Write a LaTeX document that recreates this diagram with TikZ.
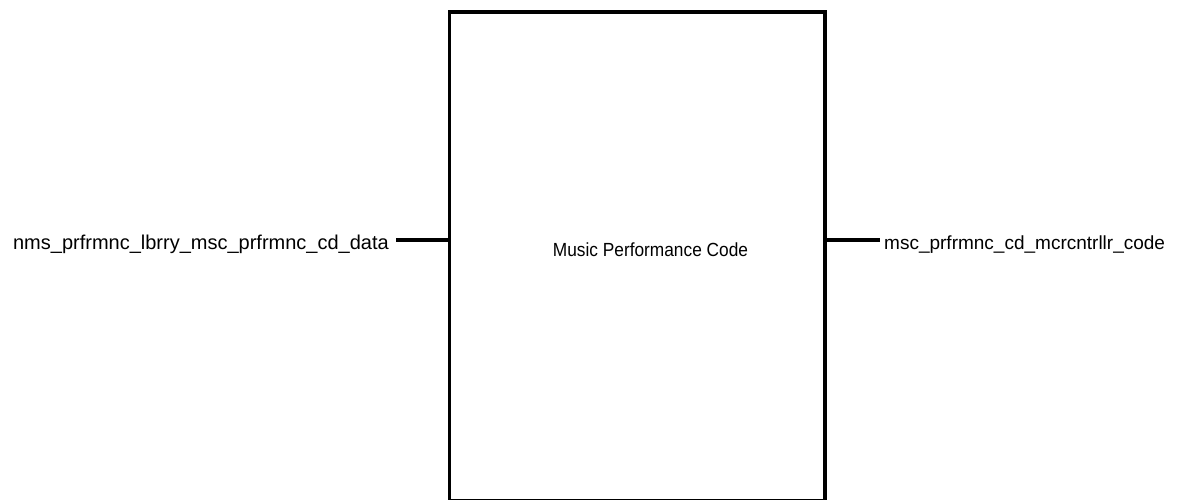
\documentclass[tikz,border=0pt]{standalone}
\usepackage{fontspec}
\setmainfont{Liberation Sans}
\newfontfamily\titlefont[FakeStretch=0.91]{Liberation Sans}
\usetikzlibrary{positioning}
\begin{document}
\begin{tikzpicture}[x=1pt,y=-1pt,font=\fontsize{19.5}{23}\selectfont,
    block/.style={draw, line width=3.5pt, inner sep=0pt, outer sep=0pt},
    wire/.style={line width=3.5pt},
    pin/.style={inner sep=0pt}]
        \useasboundingbox (0,0) rectangle (1184,500);
        \clip (0,0) rectangle (1184,500);
        % the block
        \node[block, minimum width=375.5pt, minimum height=489pt] (code) at (637.25,256.5) {};
        \node[anchor=base, font=\titlefont\fontsize{19}{23}\selectfont] (title) at (650.5,256.5) {Music Performance Code};
        % input and output
        \coordinate (in) at (396,240);
        \coordinate (out) at (880,240);
        \node[pin, anchor=base east, font=\fontsize{20}{24}\selectfont] (indata) at (389,249) {nms\_prfrmnc\_lbrry\_msc\_prfrmnc\_cd\_data};
        \node[pin, anchor=base west, font=\fontsize{19}{23}\selectfont] (outcode) at (884,249) {msc\_prfrmnc\_cd\_mcrcntrllr\_code};
        \draw[wire] (in) -- (in -| code.west);
        \draw[wire] (code.east |- out) -- (out);
\end{tikzpicture}
\end{document}
